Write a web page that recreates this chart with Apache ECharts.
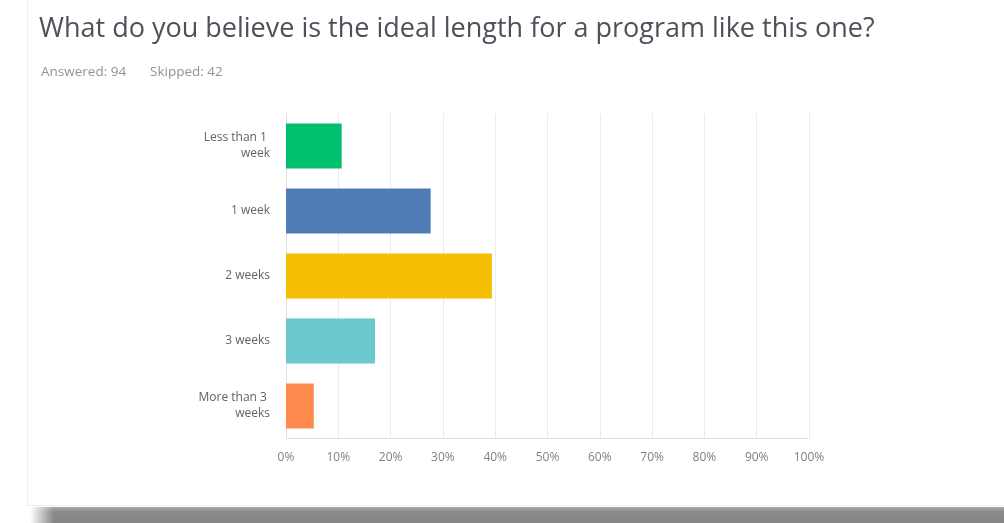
<!DOCTYPE html>
<html>
<head>
<meta charset="utf-8">
<script src="https://cdn.jsdelivr.net/npm/echarts@6/dist/echarts.min.js"></script>
<style>
  html, body { margin: 0; padding: 0; background: #ffffff; }
  body { width: 1004px; height: 523px; position: relative; overflow: hidden; }
  /* survey result card and its drop shadow */
  .card {
    position: absolute; left: 27px; top: -2px; width: 990px; height: 507px;
    background: #ffffff; border-left: 1px solid #f0f0f0; border-bottom: 1px solid #ececec;
  }
  .shadow {
    position: absolute; left: 30px; top: 507px; width: 990px; height: 16px;
    background: linear-gradient(to bottom, #a9a9a9 0%, #8a8a8a 30%, #858585 100%);
    -webkit-mask-image: linear-gradient(to right, rgba(0,0,0,0) 0px, rgba(0,0,0,1) 24px);
    mask-image: linear-gradient(to right, rgba(0,0,0,0) 0px, rgba(0,0,0,1) 24px);
  }
  #chart { position: absolute; left: 0; top: 0; width: 1004px; height: 523px; }
</style>
</head>
<body>
<div class="shadow"></div>
<div class="card"></div>
<div id="chart"></div>
<script>
// Survey question and response counts
const questionTitle = 'What do you believe is the ideal length for a program like this one?';
const answeredCount = 94;
const skippedCount = 42;

const categories = ['Less than 1 week', '1 week', '2 weeks', '3 weeks', 'More than 3 weeks'];
const percentages = [10.64, 27.66, 39.36, 17.02, 5.32];
const barColors = ['#00bf6f', '#507cb6', '#f6be00', '#6bc8cd', '#ff8b4f'];
const tickValues = [0, 10, 20, 30, 40, 50, 60, 70, 80, 90, 100];

const fontFamily = '"Open Sans", "Noto Sans", sans-serif';

const chart = echarts.init(document.getElementById('chart'), null, { renderer: 'canvas' });

const subStyle = { fontFamily, fontSize: 13.5, fontWeight: 'normal', color: '#8f9399' };

chart.setOption({
  backgroundColor: 'transparent',
  animation: false,
  title: [
    {
      text: questionTitle,
      left: 34, top: 11,
      textStyle: { fontFamily, fontSize: 27, fontWeight: 'normal', color: '#4d5159' }
    },
    {
      text: 'Answered: ' + answeredCount,
      left: 36, top: 60,
      textStyle: subStyle
    },
    {
      text: 'Skipped: ' + skippedCount,
      left: 145, top: 60,
      textStyle: subStyle
    }
  ],
  grid: { left: 286, right: 195, top: 113.5, bottom: 84.5, containLabel: false },
  xAxis: {
    type: 'value',
    min: 0, max: 100, interval: 10,
    axisLine: { show: true, lineStyle: { color: '#e0e0e0', width: 1 } },
    axisTick: { show: false },
    splitLine: { show: true, lineStyle: { color: '#ebebeb', width: 1 } },
    axisLabel: {
      margin: 13,
      fontFamily, fontSize: 12, color: '#7d8187',
      formatter: v => tickValues.includes(v) ? v + '%' : ''
    }
  },
  yAxis: {
    type: 'category',
    inverse: true,
    data: categories,
    axisLine: { show: true, lineStyle: { color: '#e0e0e0', width: 1 } },
    axisTick: { show: false },
    splitLine: { show: false },
    axisLabel: {
      margin: 16,
      width: 78,
      overflow: 'break',
      lineHeight: 16,
      align: 'right',
      fontFamily, fontSize: 12, color: '#5f636a'
    }
  },
  series: [{
    type: 'bar',
    data: percentages.map((v, i) => ({ value: v, itemStyle: { color: barColors[i] } })),
    barCategoryGap: '31%',
    label: { show: false }
  }]
});
</script>
</body>
</html>
